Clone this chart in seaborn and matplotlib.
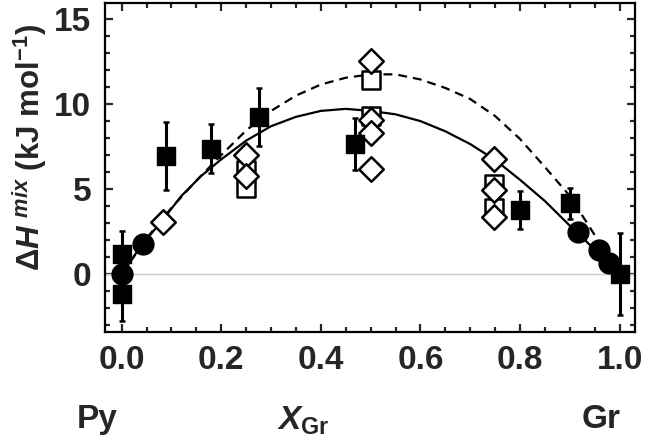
import numpy as np
import pandas as pd
import matplotlib
matplotlib.use("Agg")
import matplotlib.pyplot as plt
from matplotlib.ticker import MultipleLocator
import seaborn as sns

# --- datos ---
# curva continua
x_solid = [0.0, 0.04, 0.08, 0.12, 0.16, 0.20, 0.25, 0.30, 0.35, 0.40, 0.45, 0.50,
           0.55, 0.60, 0.65, 0.70, 0.75, 0.80, 0.85, 0.90, 0.95, 1.0]
y_solid = [0.0, 1.7, 3.1, 4.6, 5.78, 6.75, 7.85, 8.7, 9.25, 9.6, 9.72, 9.6,
           9.4, 9.0, 8.4, 7.65, 6.72, 5.55, 4.3, 2.85, 1.45, 0.0]
# curva discontinua
x_dash = [0.0, 0.05, 0.10, 0.15, 0.20, 0.25, 0.30, 0.35, 0.40, 0.45, 0.50,
          0.55, 0.60, 0.65, 0.70, 0.75, 0.80, 0.85, 0.90, 0.95, 1.0]
y_dash = [0.0, 2.1, 3.9, 5.5, 7.0, 8.45, 9.6, 10.5, 11.15, 11.55, 11.75,
          11.75, 11.45, 10.95, 10.3, 9.3, 7.95, 6.3, 4.6, 2.3, 0.0]

# cuadrados negros con barras de error
x_fsq = [0.0, 0.0, 0.089, 0.179, 0.276, 0.468, 0.80, 0.90, 1.0]
y_fsq = [1.2, -1.15, 6.95, 7.38, 9.25, 7.65, 3.76, 4.16, 0.0]
e_fsq = [1.35, 1.6, 2.0, 1.45, 1.7, 1.55, 1.1, 0.9, 2.4]

# circulos negros
x_circ = [0.0, 0.042, 0.917, 0.959, 0.979]
y_circ = [0.0, 1.75, 2.5, 1.41, 0.67]

# rombos abiertos
x_diam = [0.084, 0.25, 0.25, 0.50, 0.50, 0.50, 0.50, 0.748, 0.748, 0.748]
y_diam = [3.08, 7.0, 5.75, 12.55, 9.05, 8.3, 6.2, 6.75, 4.95, 3.37]

# cuadrados abiertos
x_osq = [0.25, 0.25, 0.50, 0.50, 0.748, 0.748]
y_osq = [6.15, 5.05, 11.4, 9.3, 5.3, 3.9]

x_ticks = [0.0, 0.2, 0.4, 0.6, 0.8, 1.0]
x_ticklabels = ["0.0", "0.2", "0.4", "0.6", "0.8", "1.0"]
y_ticks = [0, 5, 10, 15]
y_ticklabels = ["0", "5", "10", "15"]

# --- estilo ---
sns.set_style("ticks")
plt.rcParams["font.family"] = ["Liberation Sans", "DejaVu Sans"]
plt.rcParams["font.weight"] = "bold"
plt.rcParams["mathtext.fontset"] = "custom"
plt.rcParams["mathtext.rm"] = "Liberation Sans"
plt.rcParams["mathtext.it"] = "Liberation Sans:italic:bold"
plt.rcParams["mathtext.bf"] = "Liberation Sans:bold"

fig = plt.figure(figsize=(6.46, 4.44), dpi=100)
ax = fig.add_axes([0.1625, 0.252, 0.8205, 0.741])

ax.axhline(0, color="#cccccc", lw=1.0, zorder=1)

sns.lineplot(x=x_solid, y=y_solid, ax=ax, color="black", lw=1.6, zorder=2)
sns.lineplot(x=x_dash, y=y_dash, ax=ax, color="black", lw=1.6,
             linestyle=(0, (4, 2.7)), zorder=2)

ax.errorbar(x_fsq, y_fsq, yerr=e_fsq, fmt="none", ecolor="black",
            elinewidth=2.2, capsize=2.0, capthick=1.8, zorder=3)

sns.scatterplot(x=x_osq, y=y_osq, ax=ax, marker="s", s=13.5**2,
                color="white", edgecolor="black", linewidth=1.8, zorder=4)
sns.scatterplot(x=x_diam, y=y_diam, ax=ax, marker="D", s=12.5**2,
                color="white", edgecolor="black", linewidth=1.8, zorder=5)
sns.scatterplot(x=x_fsq, y=y_fsq, ax=ax, marker="s", s=13**2,
                color="black", edgecolor="black", linewidth=1.0, zorder=6)
sns.scatterplot(x=x_circ, y=y_circ, ax=ax, marker="o", s=15**2,
                color="black", edgecolor="black", linewidth=1.0, zorder=7)

ax.set_xlim(-0.0335, 1.031)
ax.set_ylim(-3.41, 15.94)

ax.set_xticks(x_ticks)
ax.set_xticklabels(x_ticklabels)
ax.set_yticks(y_ticks)
ax.set_yticklabels(y_ticklabels)
ax.xaxis.set_minor_locator(MultipleLocator(0.05))
ax.yaxis.set_minor_locator(MultipleLocator(1))
ax.tick_params(which="both", direction="in", top=True, right=True, width=1.6)
ax.tick_params(which="major", length=6)
ax.tick_params(which="minor", length=3.5)
ax.tick_params(axis="x", which="major", labelsize=24, pad=9)
ax.tick_params(axis="y", which="major", labelsize=24, pad=10)
for lab in ax.get_xticklabels() + ax.get_yticklabels():
    lab.set_fontweight("bold")

for sp in ax.spines.values():
    sp.set_linewidth(1.6)
    sp.set_color("black")

ax.set_xlabel("")
ax.set_ylabel("")

fig.text(0.045, 0.668, r"$\Delta\mathit{H}^{\ mix}$ (kJ mol$^{\mathbf{-1}}$)",
         rotation=90, ha="center", va="center", fontsize=22.5, fontweight="bold")
fig.text(0.150, 0.035, "Py", ha="center", va="baseline", fontsize=24, fontweight="bold")
fig.text(0.930, 0.035, "Gr", ha="center", va="baseline", fontsize=24, fontweight="bold")
fig.text(0.469, 0.033, r"$\mathit{X}_{\mathbf{Gr}}$", ha="center", va="baseline",
         fontsize=24, fontweight="bold")

fig.savefig("out.png", dpi=100)
